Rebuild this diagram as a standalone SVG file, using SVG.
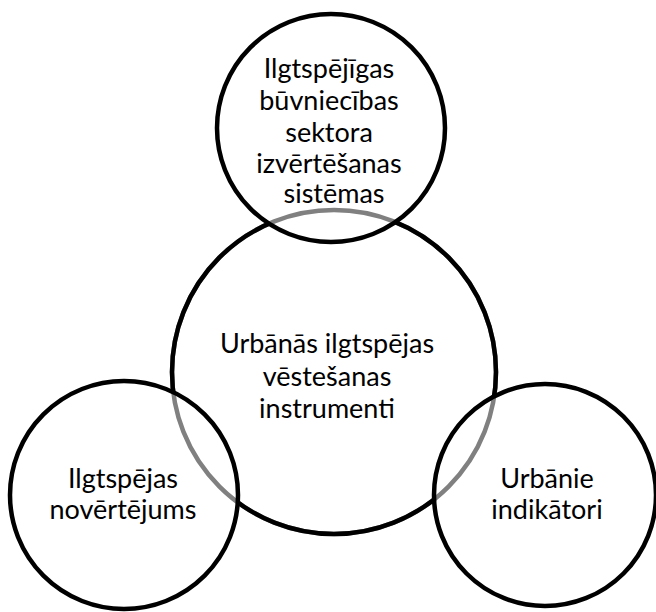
<svg xmlns="http://www.w3.org/2000/svg" width="656" height="612" viewBox="0 0 656 612">
<style>
.c{fill:none;stroke:#000;stroke-width:4.5}
.g{fill:none;stroke:#808080;stroke-width:4.5}
.t{font-family:Lato,"Open Sans",sans-serif;font-size:27px;fill:#000;text-anchor:middle}
</style>
<defs>
<mask id="outside" maskUnits="userSpaceOnUse" x="0" y="0" width="656" height="612">
<rect x="0" y="0" width="656" height="612" fill="#fff"/>
<circle cx="331" cy="128" r="114" fill="#000"/>
<circle cx="124" cy="495" r="114" fill="#000"/>
<circle cx="545" cy="495" r="111" fill="#000"/>
</mask>
</defs>
<rect width="656" height="612" fill="#fff"/>
<g id="center">
<circle class="g" cx="334" cy="372" r="162"/>
<circle class="c" cx="334" cy="372" r="162" mask="url(#outside)"/>
<text class="t" x="327" y="353">Urbānās ilgtspējas</text>
<text class="t" x="327" y="386">vēstešanas</text>
<text class="t" x="327" y="418">instrumenti</text>
</g>
<g id="top">
<circle class="c" cx="331" cy="128" r="114"/>
<text class="t" x="329" y="78">Ilgtspējīgas</text>
<text class="t" x="329" y="110">būvniecības</text>
<text class="t" x="329" y="142">sektora</text>
<text class="t" x="329" y="173">izvērtēšanas</text>
<text class="t" x="334" y="203">sistēmas</text>
</g>
<g id="left">
<circle class="c" cx="124" cy="495" r="114"/>
<text class="t" x="123" y="488">Ilgtspējas</text>
<text class="t" x="123" y="519">novērtējums</text>
</g>
<g id="right">
<circle class="c" cx="545" cy="495" r="111"/>
<text class="t" x="547" y="488">Urbānie</text>
<text class="t" x="547" y="519">indikātori</text>
</g>
<g id="connectors"></g>
</svg>
